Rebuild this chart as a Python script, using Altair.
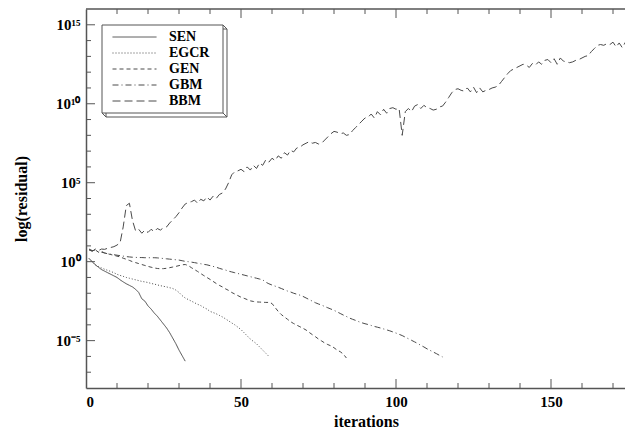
import altair as alt
import pandas as pd

# ---------------- data (log10 of residual) ----------------
methods = ["SEN", "EGCR", "GEN", "GBM", "BBM"]

sen_log = [0.2, 0.0, -0.2, -0.35, -0.5, -0.6, -0.7, -0.8, -0.9, -1.0,
           -1.15, -1.28, -1.4, -1.5, -1.6, -1.75, -1.95, -2.35, -2.5, -2.8,
           -3.0, -3.25, -3.45, -3.7, -3.95, -4.2, -4.5, -4.85, -5.2, -5.6,
           -5.95, -6.3]

egcr_log = [0.2, 0.0, -0.2, -0.3, -0.4, -0.48, -0.55, -0.62, -0.7, -0.8,
            -0.87, -0.93, -1.0, -1.05, -1.1, -1.15, -1.2, -1.25, -1.28, -1.32,
            -1.38, -1.42, -1.47, -1.52, -1.56, -1.6, -1.65, -1.7, -1.8, -1.95,
            -2.15, -2.3, -2.4, -2.5, -2.6, -2.7, -2.78, -2.9, -3.0, -3.15,
            -3.22, -3.3, -3.4, -3.5, -3.62, -3.75, -3.88, -4.0, -4.15, -4.3,
            -4.5, -4.7, -4.9, -5.05, -5.2, -5.4, -5.6, -5.8, -6.0]

gen_log = [0.75, 0.7, 0.75, 0.6, 0.65, 0.55, 0.5, 0.45, 0.4, 0.35,
           0.3, 0.22, 0.15, 0.08, 0.0, -0.06, -0.12, -0.18, -0.24, -0.3,
           -0.35, -0.4, -0.43, -0.45, -0.44, -0.42, -0.38, -0.34, -0.3, -0.25,
           -0.2, -0.18, -0.25, -0.38, -0.5, -0.62, -0.75, -0.88, -1.0, -1.12,
           -1.25, -1.38, -1.5, -1.6, -1.72, -1.82, -1.95, -2.05, -2.15, -2.25,
           -2.32, -2.4, -2.48, -2.52, -2.55, -2.56, -2.57, -2.58, -2.58, -2.65,
           -2.9, -3.15, -3.35, -3.5, -3.65, -3.8, -3.92, -4.02, -4.12, -4.22,
           -4.33, -4.48, -4.62, -4.75, -4.9, -5.02, -5.15, -5.25, -5.33, -5.45,
           -5.6, -5.7, -5.85, -6.1]

gbm_log = [0.8, 0.7, 0.72, 0.62, 0.6, 0.55, 0.5, 0.47, 0.44, 0.41,
           0.38, 0.35, 0.32, 0.3, 0.28, 0.27, 0.26, 0.26, 0.25, 0.25,
           0.25, 0.25, 0.24, 0.22, 0.2, 0.18, 0.16, 0.14, 0.12, 0.1,
           0.06, 0.02, 0.0, -0.03, -0.06, -0.1, -0.13, -0.17, -0.2, -0.25,
           -0.3, -0.35, -0.42, -0.48, -0.53, -0.6, -0.65, -0.7, -0.75, -0.8,
           -0.85, -0.9, -0.95, -1.0, -1.05, -1.1, -1.15, -1.3, -1.4, -1.48,
           -1.55, -1.62, -1.7, -1.78, -1.86, -1.92, -2.0, -2.06, -2.12, -2.2,
           -2.3, -2.4, -2.5, -2.6, -2.68, -2.75, -2.84, -2.92, -3.0, -3.08,
           -3.18, -3.28, -3.38, -3.47, -3.57, -3.65, -3.72, -3.8, -3.87, -3.93,
           -3.98, -4.04, -4.1, -4.15, -4.2, -4.26, -4.32, -4.38, -4.45, -4.52,
           -4.6, -4.68, -4.78, -4.88, -4.98, -5.08, -5.18, -5.3, -5.4, -5.52,
           -5.62, -5.72, -5.82, -5.93, -6.03]

bbm_log = [0.75, 0.65, 0.8, 0.7, 0.8, 0.78, 0.85, 0.9, 0.95, 1.05,
           1.2, 2.2, 3.55, 3.7, 2.6, 1.95, 2.05, 1.8, 2.0, 1.85,
           2.05, 1.9, 2.1, 2.0, 2.15, 2.2, 2.45, 2.65, 2.85, 3.1,
           3.4, 3.65, 3.75, 3.8, 3.9, 3.7, 3.95, 3.85, 4.1, 3.9,
           4.15, 4.0, 4.25, 4.35, 4.6, 5.0, 5.5, 5.7, 5.75, 5.85,
           5.7, 6.0, 5.8, 6.1, 5.9, 6.25, 6.1, 6.45, 6.3, 6.55,
           6.4, 6.7, 6.55, 6.9, 6.75, 7.05, 6.95, 7.2, 7.25, 7.4,
           7.5, 7.6, 7.5, 7.55, 7.45, 7.5, 7.7, 7.9, 8.1, 8.25,
           8.2, 8.1, 8.15, 8.0, 8.05, 8.3, 8.5, 8.7, 8.9, 9.1,
           9.15, 9.35, 9.1, 9.5, 9.3, 9.65, 9.4, 9.7, 9.75, 9.65,
           9.7, 8.0, 9.5, 9.7, 9.5, 9.85, 9.95, 9.7, 9.9, 9.75,
           9.7, 9.6, 9.65, 9.8, 9.85, 10.1, 10.4, 10.7, 10.9, 10.95,
           10.85, 10.8, 11.0, 10.75, 11.05, 10.7, 11.0, 10.75, 10.85, 10.9,
           11.0, 11.05, 11.15, 11.4, 11.65, 11.9, 12.1, 12.2, 12.3, 12.4,
           12.5, 12.45, 12.3, 12.55, 12.45, 12.65, 12.5, 12.75, 12.8, 12.6,
           12.85, 12.5, 12.9, 12.7, 12.65, 12.6, 12.65, 12.75, 12.8, 12.9,
           13.0, 13.05, 13.3, 13.5, 13.7, 13.75, 13.7, 13.8, 13.75, 13.9,
           13.6, 13.85, 13.55, 13.9, 13.8, 14.2]

x_label_values = [0, 50, 100, 150]
x_minor_ticks = [10, 20, 30, 40, 60, 70, 80, 90, 110, 120, 130, 140, 160, 170]
x_major_ticks = [50, 100, 150]
y_label_exps = [-5, 0, 5, 10, 15]
y_label_texts = ["10\u207b\u2075", "10\u2070", "10\u2075", "10\u00b9\u2070", "10\u00b9\u2075"]
y_minor_exps = [e for e in range(-7, 16) if e % 5 != 0]
y_major_exps = [-5, 0, 5, 10, 15]

series = {"SEN": sen_log, "EGCR": egcr_log, "GEN": gen_log, "GBM": gbm_log, "BBM": bbm_log}
rows = []
for name in methods:
    for i, v in enumerate(series[name], start=1):
        rows.append({"method": name, "iter": i, "residual": 10 ** v})
df = pd.DataFrame(rows)

# ---------------- styling ----------------
FONT = "Liberation Serif"
LINE = "#4a4a4a"
AXIS = "#555555"
W, H = 539, 379
dashes = [[1, 0], [1, 2], [4, 3], [6, 3, 1, 3], [8, 4]]

xscale = alt.Scale(domain=[0, W / 3.1], nice=False, zero=False)
yscale = alt.Scale(type="log", domain=[1e-8, 1e16], nice=False)

label_expr = ""
for e, t in zip(y_label_exps, y_label_texts):
    label_expr += f"round(log(datum.value)/LN10) == {e} ? '{t}' : "
label_expr += "''"

x_axis = alt.Axis(values=x_label_values, ticks=False, tickSize=0, grid=False,
                  domainColor=AXIS, domainWidth=1.5,
                  labelFont=FONT, labelFontWeight="bold", labelFontSize=15,
                  labelColor="black", labelPadding=6,
                  title="iterations", titleFont=FONT, titleFontWeight="bold",
                  titleFontSize=16, titleColor="black", titlePadding=4,
                  titleX=280)
y_axis = alt.Axis(values=[10.0 ** e for e in y_label_exps], labelExpr=label_expr,
                  ticks=False, tickSize=0, grid=False,
                  domainColor=AXIS, domainWidth=1.5,
                  labelFont=FONT, labelFontWeight="bold", labelFontSize=15,
                  labelColor="black", labelPadding=6,
                  title="log(residual)", titleFont=FONT, titleFontWeight="bold",
                  titleFontSize=16, titleColor="black", titlePadding=26)

lines = alt.Chart(df).mark_line(color=LINE, strokeWidth=1, clip=True).encode(
    x=alt.X("iter:Q", scale=xscale, axis=x_axis),
    y=alt.Y("residual:Q", scale=yscale, axis=y_axis),
    strokeDash=alt.StrokeDash("method:N",
                              scale=alt.Scale(domain=methods, range=dashes),
                              sort=methods,
                              legend=alt.Legend(orient="none", legendX=26, legendY=21,
                                                title=None, padding=0, strokeColor=None,
                                                symbolType="stroke", symbolSize=1936,
                                                symbolStrokeWidth=1, symbolStrokeColor=LINE,
                                                labelFont=FONT, labelFontWeight="bold",
                                                labelFontSize=14, labelColor="black",
                                                labelOffset=12, clipHeight=14, rowPadding=2)),
)

# legend frame with 3-D bevel
one = pd.DataFrame({"a": [0]})
frame_back = alt.Chart(one).mark_rect(fill="white", stroke=AXIS, strokeWidth=1).encode(
    x=alt.value(20), x2=alt.value(141), y=alt.value(20), y2=alt.value(108))
frame_front = alt.Chart(one).mark_rect(fill="white", stroke=AXIS, strokeWidth=1).encode(
    x=alt.value(16), x2=alt.value(137), y=alt.value(16), y2=alt.value(104))
bevel1 = alt.Chart(one).mark_rule(color=AXIS).encode(
    x=alt.value(137), x2=alt.value(141), y=alt.value(16), y2=alt.value(20))
bevel2 = alt.Chart(one).mark_rule(color=AXIS).encode(
    x=alt.value(137), x2=alt.value(141), y=alt.value(104), y2=alt.value(108))
bevel3 = alt.Chart(one).mark_rule(color=AXIS).encode(
    x=alt.value(16), x2=alt.value(20), y=alt.value(104), y2=alt.value(108))

# top border
top_border = alt.Chart(one).mark_rule(color=AXIS, strokeWidth=1.5).encode(
    x=alt.value(0), x2=alt.value(W), y=alt.value(0))

# inward ticks
def xticks(vals, y0, y1):
    return alt.Chart(pd.DataFrame({"iter": vals})).mark_rule(color=AXIS, strokeWidth=1).encode(
        x=alt.X("iter:Q", scale=xscale, axis=x_axis), y=alt.value(y0), y2=alt.value(y1))

def yticks(exps, length):
    return alt.Chart(pd.DataFrame({"residual": [10.0 ** e for e in exps]})).mark_rule(color=AXIS, strokeWidth=1).encode(
        y=alt.Y("residual:Q", scale=yscale, axis=y_axis), x=alt.value(0), x2=alt.value(length))

ticks = [
    xticks(x_minor_ticks, H, H - 5), xticks(x_major_ticks, H, H - 9),
    xticks(x_minor_ticks, 0, 5), xticks(x_major_ticks, 0, 9),
    yticks(y_minor_exps, 5), yticks(y_major_exps, 9),
]

chart = alt.layer(lines, *ticks, top_border, frame_back, frame_front, bevel1, bevel2, bevel3).properties(
    width=W, height=H,
    autosize=alt.AutoSizeParams(type="none"),
    padding={"left": 78, "top": 1, "right": 0, "bottom": 45},
).configure_view(stroke=None)

chart.save("out.html", embed_options={"renderer": "svg", "actions": False})
